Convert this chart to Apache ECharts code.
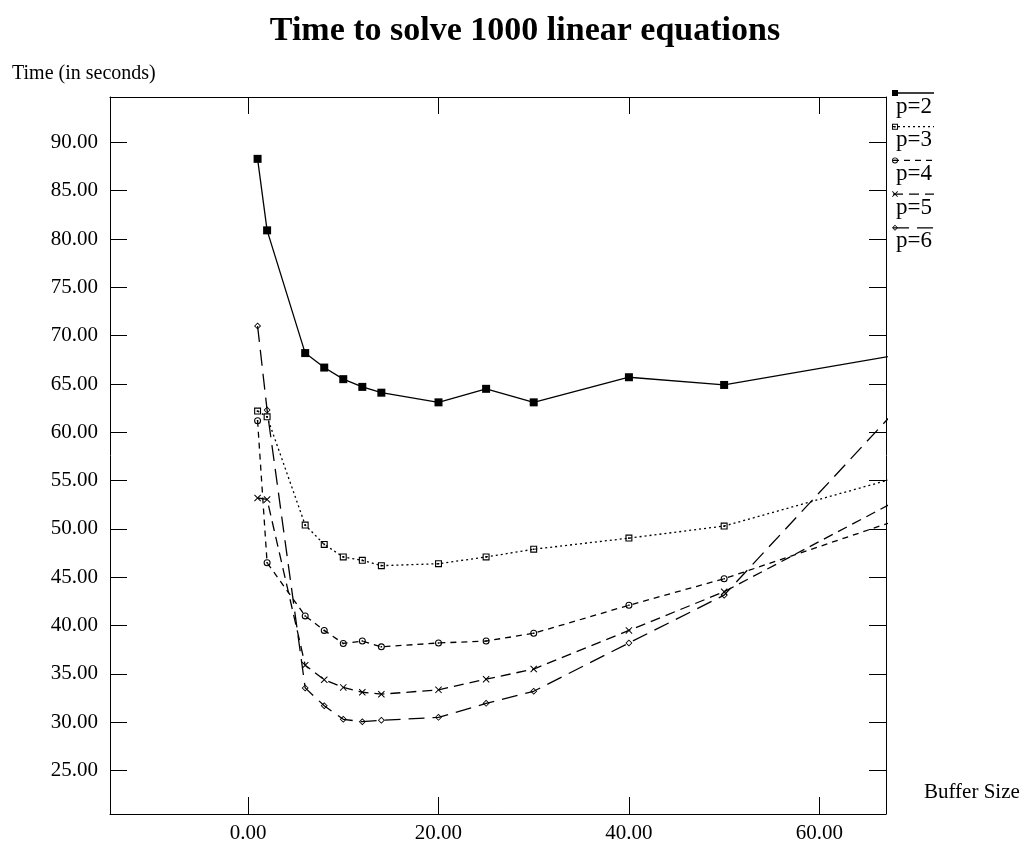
<!DOCTYPE html>
<html>
<head>
<meta charset="utf-8">
<script src="https://cdn.jsdelivr.net/npm/echarts@6/dist/echarts.min.js"></script>
<style>
  html, body { margin: 0; padding: 0; background: #fff; }
  #chart { width: 1031px; height: 850px; }
</style>
</head>
<body>
<div id="chart"></div>
<script>
// buffer sizes (last point lies past the right edge and gets clipped)
const bufferSizes = [1, 2, 6, 8, 10, 12, 14, 20, 25, 30, 40, 50, 100];
const p2 = [88.3, 80.9, 68.2, 66.7, 65.5, 64.7, 64.1, 63.1, 64.5, 63.1, 65.7, 64.9, 73.4];
const p3 = [62.2, 61.6, 50.4, 48.4, 47.1, 46.75, 46.2, 46.4, 47.1, 47.9, 49.05, 50.3, 64.1];
const p4 = [61.2, 46.5, 41.0, 39.5, 38.15, 38.4, 37.8, 38.2, 38.4, 39.2, 42.1, 44.85, 61.5];
const p5 = [53.2, 53.05, 35.9, 34.4, 33.6, 33.1, 32.9, 33.35, 34.45, 35.5, 39.5, 43.5, 69.5];
const p6 = [71.0, 62.3, 33.55, 31.7, 30.3, 30.05, 30.2, 30.5, 31.95, 33.2, 38.2, 43.15, 96.2];

const xTicks = [0, 20, 40, 60];
const yTicks = [25, 30, 35, 40, 45, 50, 55, 60, 65, 70, 75, 80, 85, 90];

const FONT = '"Liberation Serif", "DejaVu Serif", serif';

// marker shapes (10x10 box), all filled black
const SYM_SQUARE = 'M0,0H10V10H0Z';
const SYM_SQUARE_DOT = 'M0,0H10V10H0Z M1.6,1.6V8.4H8.4V1.6Z M3.8,3.8H6.2V6.2H3.8Z';
const SYM_CIRCLE_DOT = 'M5,0A5,5,0,1,1,5,10A5,5,0,1,1,5,0Z M5,1.5A3.5,3.5,0,1,0,5,8.5A3.5,3.5,0,1,0,5,1.5Z M3.9,3.9H6.1V6.1H3.9Z';
const SYM_CROSS = 'M0,1L1,0L5,4L9,0L10,1L6,5L10,9L9,10L5,6L1,10L0,9L4,5Z';
const SYM_DIAMOND = 'M5,0L10,5L5,10L0,5Z M5,1.7L1.7,5L5,8.3L8.3,5Z';

const lines = [
  { name: 'p=2', values: p2, dash: 'solid', symbol: SYM_SQUARE, size: 8 },
  { name: 'p=3', values: p3, dash: [2, 3], symbol: SYM_SQUARE_DOT, size: 7 },
  { name: 'p=4', values: p4, dash: [6, 5], symbol: SYM_CIRCLE_DOT, size: 7 },
  { name: 'p=5', values: p5, dash: [10, 6], symbol: SYM_CROSS, size: 7 },
  { name: 'p=6', values: p6, dash: [16, 8], symbol: SYM_DIAMOND, size: 7 }
];

const gridLeft = 110, gridTop = 97, gridW = 776, gridH = 717;

const xRange = { min: -14.5, max: 67.0 };
const yRange = { min: 20.5, max: 94.7 };

function makeAxis(pos, range, ticks, withLabels) {
  return Object.assign({
    type: 'value',
    position: pos,
    axisLine: { show: true, onZero: false, lineStyle: { color: '#000', width: 1 } },
    axisTick: { show: true, inside: true, length: 17, customValues: ticks, lineStyle: { color: '#000', width: 1 } },
    splitLine: { show: false },
    axisLabel: withLabels ? {
      show: true, customValues: ticks, margin: pos === 'left' ? 12 : 9,
      formatter: v => v.toFixed(2),
      fontFamily: FONT, fontSize: 21, color: '#000'
    } : { show: false }
  }, range);
}

const series = lines.map(s => ({
  name: s.name,
  type: 'line',
  data: bufferSizes.map((x, i) => [x, s.values[i]]),
  symbol: 'path://' + s.symbol,
  symbolSize: s.size,
  showAllSymbol: true,
  clip: true,
  animation: false,
  lineStyle: { color: '#000', width: 1.3, type: s.dash },
  itemStyle: { color: '#000', borderWidth: 0 }
}));

// legend drawn at the right edge: line sample with marker, name underneath
lines.forEach((s, i) => {
  echarts.graphic.registerShape('legendSym' + i, echarts.graphic.extendPath(s.symbol, {}));
});
const legendItems = [];
lines.forEach((s, i) => {
  const y = 93 + i * 33.7;
  legendItems.push({
    type: 'line',
    shape: { x1: 893, y1: y, x2: 934, y2: y },
    style: { stroke: '#000', lineWidth: 1.3, lineDash: s.dash === 'solid' ? null : s.dash }
  });
  legendItems.push({
    type: 'legendSym' + i,
    x: 892, y: y - 3, scaleX: 0.6, scaleY: 0.6,
    style: { fill: '#000' }
  });
  legendItems.push({
    type: 'text',
    x: 896, y: y + 2,
    style: { text: s.name, font: '23px ' + FONT, fill: '#000', verticalAlign: 'top' }
  });
});

const chart = echarts.init(document.getElementById('chart'), null, { renderer: 'canvas' });
chart.setOption({
  backgroundColor: '#fff',
  animation: false,
  title: [
    {
      text: 'Time to solve 1000 linear equations',
      left: 520, top: 9, textAlign: 'center',
      textStyle: { fontFamily: FONT, fontWeight: 'bold', fontSize: 34, color: '#000' }
    },
    {
      text: 'Time (in seconds)',
      left: 7, top: 59,
      textStyle: { fontFamily: FONT, fontWeight: 'normal', fontSize: 20, color: '#000' }
    },
    {
      text: 'Buffer Size',
      left: 919, top: 777,
      textStyle: { fontFamily: FONT, fontWeight: 'normal', fontSize: 21, color: '#000' }
    }
  ],
  grid: { left: gridLeft, top: gridTop, width: gridW, height: gridH },
  xAxis: [
    makeAxis('bottom', xRange, xTicks, true),
    makeAxis('top', xRange, xTicks, false)
  ],
  yAxis: [
    makeAxis('left', yRange, yTicks, true),
    makeAxis('right', yRange, yTicks, false)
  ],
  series: series,
  graphic: legendItems
});
</script>
</body>
</html>
